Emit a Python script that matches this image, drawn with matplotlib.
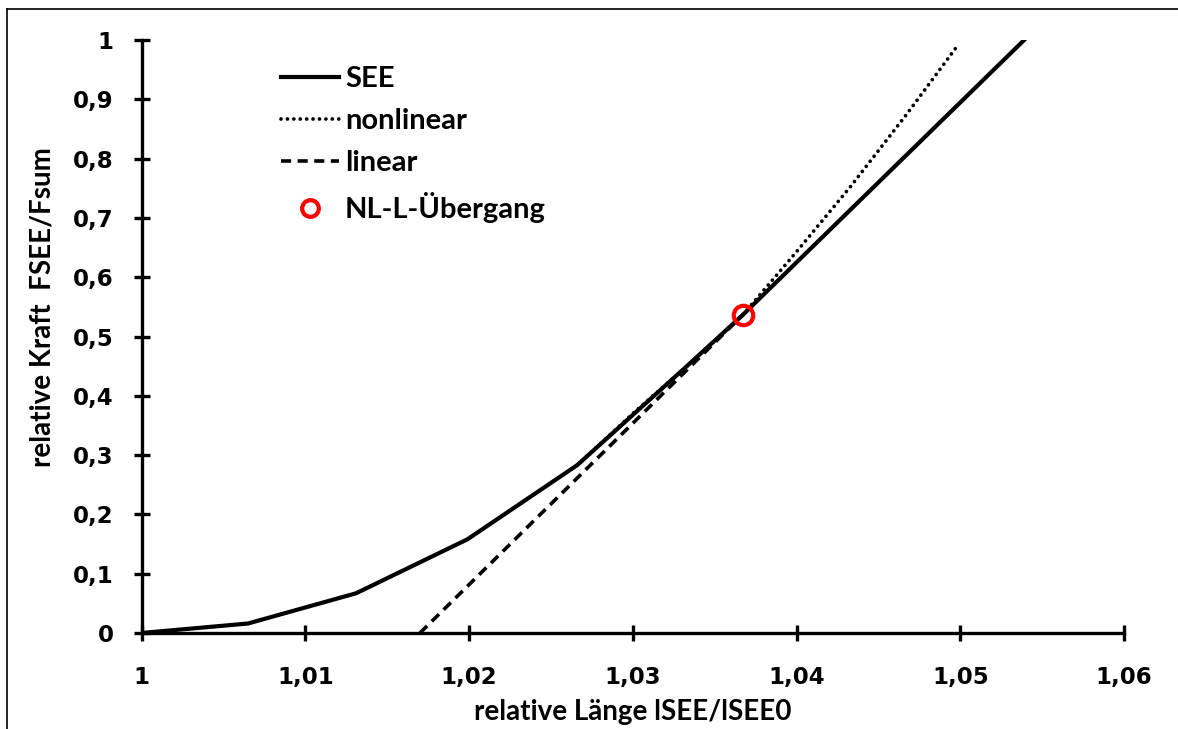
import matplotlib
matplotlib.use('Agg')
import matplotlib.pyplot as plt
from matplotlib.lines import Line2D
from matplotlib.ticker import FuncFormatter

# Daten
see_x = [1.0, 1.0065, 1.0131, 1.0199, 1.0266, 1.0333, 1.0367, 1.0539]
see_y = [0.0, 0.016, 0.067, 0.158, 0.283, 0.45, 0.536, 1.0]

nonlin_x = [1.0266, 1.03, 1.0333, 1.0367, 1.04, 1.0433, 1.0467, 1.0499]
nonlin_y = [0.283, 0.37, 0.45, 0.536, 0.643, 0.753, 0.874, 0.993]

lin_x = [1.0170, 1.0367]
lin_y = [0.0, 0.536]

uebergang_x = [1.0367]
uebergang_y = [0.536]

x_ticks = [1.0, 1.01, 1.02, 1.03, 1.04, 1.05, 1.06]
y_ticks = [0, 0.1, 0.2, 0.3, 0.4, 0.5, 0.6, 0.7, 0.8, 0.9, 1.0]

narrow = ['Lato', 'DejaVu Sans']
dotted = (0, (0.01, 1.7))
dashed = (0, (2.8, 1.8))

fig = plt.figure(figsize=(11.78, 7.29), dpi=100)
ax = fig.add_axes([0.1202, 0.1317, 0.8340, 0.8134])

ax.plot(nonlin_x, nonlin_y, color='black', lw=2.7, linestyle=dotted,
        dash_capstyle='round', label='nonlinear')
ax.plot(lin_x, lin_y, color='black', lw=2.6, linestyle=dashed, label='linear')
ax.plot(see_x, see_y, color='black', lw=3, label='SEE')
ax.plot(uebergang_x, uebergang_y, 'o', ms=14, mfc='none', mec='#ff0000', mew=3,
        label='NL-L-Übergang', zorder=5)

ax.set_xlim(1.0, 1.06)
ax.set_ylim(0, 1.0)
ax.set_xticks(x_ticks)
ax.set_yticks(y_ticks)

def komma(v, pos):
    s = ('%.2f' % v).rstrip('0').rstrip('.')
    return s.replace('.', ',')

ax.xaxis.set_major_formatter(FuncFormatter(komma))
ax.yaxis.set_major_formatter(FuncFormatter(komma))

for side in ['top', 'right']:
    ax.spines[side].set_visible(False)
for side in ['left', 'bottom']:
    ax.spines[side].set_linewidth(2.4)
ax.tick_params(direction='inout', length=12, width=2.4)
ax.tick_params(axis='x', pad=18)
ax.tick_params(axis='y', pad=14)
for lab in ax.get_xticklabels() + ax.get_yticklabels():
    lab.set_fontsize(16.5)
    lab.set_fontweight('bold')
    lab.set_family(['DejaVu Sans'])

ax.set_xlabel('relative Länge lSEE/lSEE0', fontsize=20, fontweight='bold',
              family=narrow)
ax.set_ylabel('relative Kraft  FSEE/Fsum', fontsize=20, fontweight='bold',
              family=narrow)
ax.xaxis.set_label_coords(0.5, -0.112)
ax.yaxis.set_label_coords(-0.088, 0.55)

handles = [
    Line2D([], [], color='black', lw=3),
    Line2D([], [], color='black', lw=2.7, linestyle=dotted, dash_capstyle='round'),
    Line2D([], [], color='black', lw=2.6, linestyle=dashed),
    Line2D([], [], marker='o', ls='none', ms=12, mfc='none', mec='#ff0000', mew=3),
]
labels = ['SEE', 'nonlinear', 'linear', 'NL-L-Übergang']
ax.legend(handles, labels, loc='upper left', bbox_to_anchor=(0.115, 1.0), frameon=False,
          prop={'family': narrow, 'weight': 'bold', 'size': 21},
          handlelength=2.0, handletextpad=0.2, labelspacing=0.55)

# Rahmen oben und links
fig.add_artist(Line2D([0.006, 1.0], [0.988, 0.988], color='black', lw=1.2))
fig.add_artist(Line2D([0.006, 0.006], [0.0, 0.988], color='black', lw=1.2))

fig.savefig('out.png', dpi=100)
